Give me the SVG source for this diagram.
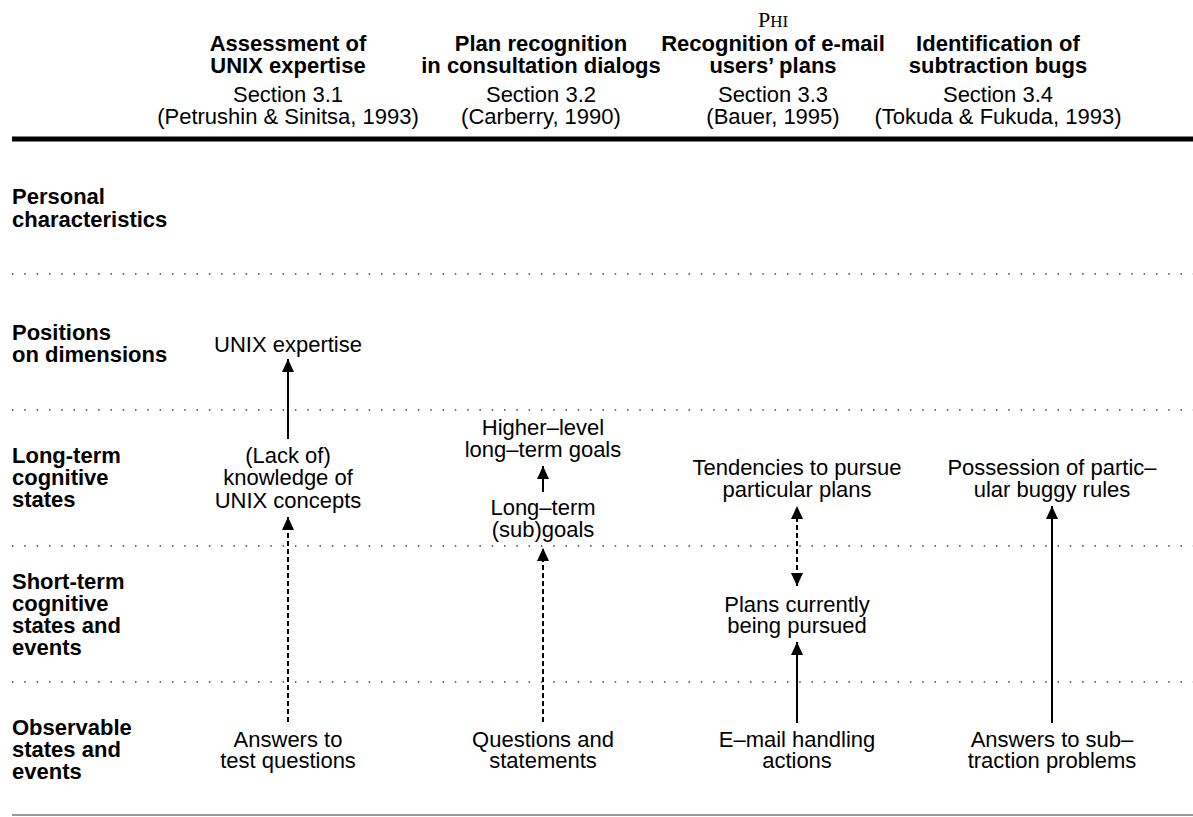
<svg xmlns="http://www.w3.org/2000/svg" width="1193" height="817" viewBox="0 0 1193 817">
<style>
  text { font-family: "Liberation Sans", Arial, sans-serif; font-size: 22px; fill: #000; }
  .b { font-weight: bold; }
  .c { text-anchor: middle; }
  .lbl { font-weight: bold; }
  .dot { stroke: #444; stroke-width: 1.5; stroke-dasharray: 1.5 10.8; fill: none; }
  .solid { stroke: #000; stroke-width: 2; fill: none; }
  .dash { stroke: #000; stroke-width: 2; stroke-dasharray: 5 3; fill: none; }
</style>
<defs>
  <marker id="ah" viewBox="0 0 13 12" refX="13" refY="6" markerWidth="13" markerHeight="12" markerUnits="userSpaceOnUse" orient="auto-start-reverse">
    <path d="M0,0 L13,6 L0,12 Z" fill="#000"/>
  </marker>
</defs>
<rect width="1193" height="817" fill="#fff"/>

<g id="rules">
  <line x1="12" y1="139" x2="1193" y2="139" stroke="#000" stroke-width="5"/>
  <line class="dot" x1="12" y1="274" x2="1193" y2="274"/>
  <line class="dot" x1="12" y1="410" x2="1193" y2="410"/>
  <line class="dot" x1="12" y1="546" x2="1193" y2="546"/>
  <line class="dot" x1="12" y1="682" x2="1193" y2="682"/>
  <line x1="12" y1="815" x2="1193" y2="815" stroke="#777" stroke-width="1.5"/>
</g>

<g id="headers">
  <g id="h1">
    <text class="b c" x="288" y="51">Assessment of</text>
    <text class="b c" x="288" y="73">UNIX expertise</text>
    <text class="c" x="288" y="102">Section 3.1</text>
    <text class="c" x="288" y="124">(Petrushin &amp; Sinitsa, 1993)</text>
  </g>
  <g id="h2">
    <text class="b c" x="541" y="51">Plan recognition</text>
    <text class="b c" x="541" y="73">in consultation dialogs</text>
    <text class="c" x="541" y="102">Section 3.2</text>
    <text class="c" x="541" y="124">(Carberry, 1990)</text>
  </g>
  <g id="h3">
    <text class="c" x="773" y="27" style="font-family:'Liberation Serif','Times New Roman',serif;font-size:22px">P<tspan style="font-size:17px">HI</tspan></text>
    <text class="b c" x="773" y="51">Recognition of e-mail</text>
    <text class="b c" x="773" y="73">users’ plans</text>
    <text class="c" x="773" y="102">Section 3.3</text>
    <text class="c" x="773" y="124">(Bauer, 1995)</text>
  </g>
  <g id="h4">
    <text class="b c" x="998" y="51">Identification of</text>
    <text class="b c" x="998" y="73">subtraction bugs</text>
    <text class="c" x="998" y="102">Section 3.4</text>
    <text class="c" x="998" y="124">(Tokuda &amp; Fukuda, 1993)</text>
  </g>
</g>

<g id="row-labels">
  <g id="lab-personal">
    <text class="lbl" x="12" y="204">Personal</text>
    <text class="lbl" x="12" y="227">characteristics</text>
  </g>
  <g id="lab-positions">
    <text class="lbl" x="12" y="340">Positions</text>
    <text class="lbl" x="12" y="362">on dimensions</text>
  </g>
  <g id="lab-longterm">
    <text class="lbl" x="12" y="463">Long-term</text>
    <text class="lbl" x="12" y="485">cognitive</text>
    <text class="lbl" x="12" y="507">states</text>
  </g>
  <g id="lab-shortterm">
    <text class="lbl" x="12" y="589">Short-term</text>
    <text class="lbl" x="12" y="611">cognitive</text>
    <text class="lbl" x="12" y="633">states and</text>
    <text class="lbl" x="12" y="655">events</text>
  </g>
  <g id="lab-observable">
    <text class="lbl" x="12" y="735">Observable</text>
    <text class="lbl" x="12" y="757">states and</text>
    <text class="lbl" x="12" y="779">events</text>
  </g>
</g>

<g id="connectors">
  <line class="solid" x1="288" y1="439" x2="288" y2="359" marker-end="url(#ah)"/>
  <line class="dash" x1="288" y1="722" x2="288" y2="517" marker-end="url(#ah)"/>
  <line class="solid" x1="543" y1="492" x2="543" y2="466" marker-end="url(#ah)"/>
  <line class="dash" x1="543" y1="722" x2="543" y2="548" marker-end="url(#ah)"/>
  <line class="dash" x1="797" y1="586" x2="797" y2="506" marker-start="url(#ah)" marker-end="url(#ah)"/>
  <line class="solid" x1="797" y1="723" x2="797" y2="642" marker-end="url(#ah)"/>
  <line class="solid" x1="1052" y1="723" x2="1052" y2="506" marker-end="url(#ah)"/>
</g>

<g id="n-unix-expertise"><text class="c" x="288" y="352">UNIX expertise</text></g>
<g id="n-lack-knowledge">
  <text class="c" x="288" y="463">(Lack of)</text>
  <text class="c" x="288" y="485">knowledge of</text>
  <text class="c" x="288" y="508">UNIX concepts</text>
</g>
<g id="n-answers-test">
  <text class="c" x="288" y="747">Answers to</text>
  <text class="c" x="288" y="768">test questions</text>
</g>

<g id="n-higher-goals">
  <text class="c" x="543" y="435">Higher–level</text>
  <text class="c" x="543" y="457">long–term goals</text>
</g>
<g id="n-subgoals">
  <text class="c" x="543" y="515">Long–term</text>
  <text class="c" x="543" y="537">(sub)goals</text>
</g>
<g id="n-questions">
  <text class="c" x="543" y="747">Questions and</text>
  <text class="c" x="543" y="768">statements</text>
</g>

<g id="n-tendencies">
  <text class="c" x="797" y="475">Tendencies to pursue</text>
  <text class="c" x="797" y="497">particular plans</text>
</g>
<g id="n-plans-current">
  <text class="c" x="797" y="612">Plans currently</text>
  <text class="c" x="797" y="633">being pursued</text>
</g>
<g id="n-email-actions">
  <text class="c" x="797" y="747">E–mail handling</text>
  <text class="c" x="797" y="768">actions</text>
</g>

<g id="n-buggy-rules">
  <text class="c" x="1052" y="475">Possession of partic–</text>
  <text class="c" x="1052" y="497">ular buggy rules</text>
</g>
<g id="n-answers-sub">
  <text class="c" x="1052" y="747">Answers to sub–</text>
  <text class="c" x="1052" y="768">traction problems</text>
</g>
</svg>
